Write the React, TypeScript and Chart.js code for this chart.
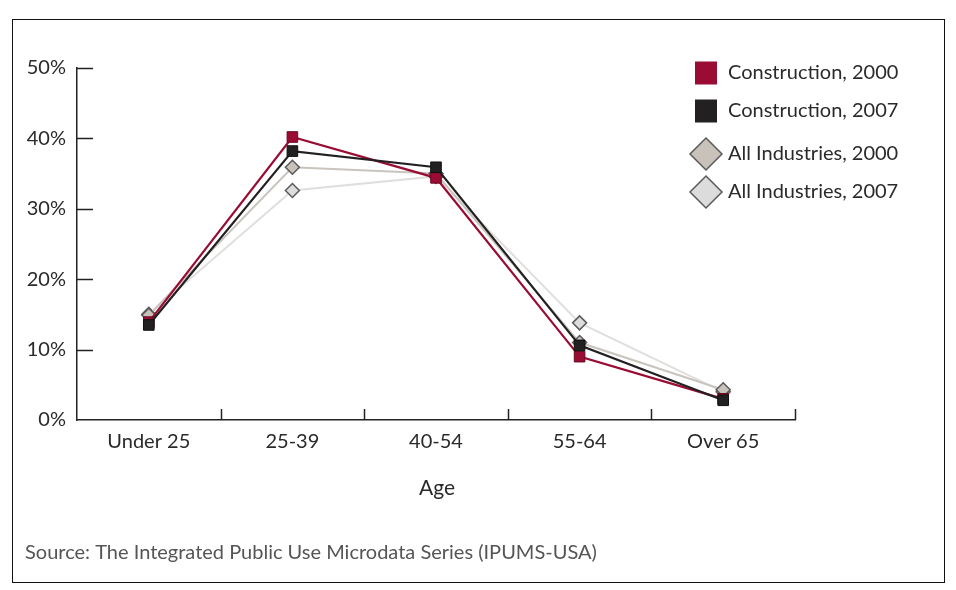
import React, { useEffect, useRef } from "react";
import { Chart, registerables } from "chart.js";

Chart.register(...registerables);

const categories = ["Under 25", "25-39", "40-54", "55-64", "Over 65"];
const construction2000 = [13.9, 40.2, 34.4, 9.0, 3.0];
const construction2007 = [13.5, 38.2, 35.9, 10.6, 2.8];
const allIndustries2000 = [14.9, 35.9, 35.0, 11.0, 4.3];
const allIndustries2007 = [15.0, 32.6, 34.6, 13.8, 4.0];
const yTicks = [0, 10, 20, 30, 40, 50];
const seriesLabels = [
  "Construction, 2000",
  "Construction, 2007",
  "All Industries, 2000",
  "All Industries, 2007",
];
const xAxisTitle = "Age";
const sourceNote = "Source: The Integrated Public Use Microdata Series (IPUMS-USA)";

const FONT = "Lato, 'Open Sans', sans-serif";

export default function App() {
  const ref = useRef<HTMLCanvasElement | null>(null);

  useEffect(() => {
    const canvas = ref.current;
    if (!canvas) return;

    const extras = {
      id: "extras",
      afterDraw(chart: any) {
        const ctx = chart.ctx;
        const xs = chart.scales.x;
        const ys = chart.scales.y;
        const area = chart.chartArea;
        ctx.save();
        ctx.strokeStyle = "#222";
        ctx.lineWidth = 1.5;
        // inward y ticks
        yTicks.forEach((v) => {
          if (v === 0) return;
          const y = Math.round(ys.getPixelForValue(v)) + 0.5;
          ctx.beginPath();
          ctx.moveTo(area.left, y);
          ctx.lineTo(area.left + 16, y);
          ctx.stroke();
        });
        // upward x ticks at category boundaries
        for (let i = 1; i <= categories.length; i++) {
          const x = Math.round(xs.getPixelForValue(i - 0.5)) + 0.5;
          ctx.beginPath();
          ctx.moveTo(x, area.bottom);
          ctx.lineTo(x, area.bottom - 11);
          ctx.stroke();
        }
        // axis title
        ctx.font = `21px ${FONT}`;
        ctx.fillStyle = "#2a2a2a";
        ctx.textAlign = "center";
        ctx.textBaseline = "middle";
        ctx.fillText(xAxisTitle, (area.left + area.right) / 2 + 1, 488);
        // legend
        const ds = chart.data.datasets;
        const rowY = [73, 111, 154, 192];
        ctx.font = `20px ${FONT}`;
        ctx.textBaseline = "middle";
        ctx.textAlign = "left";
        ds.forEach((d: any, i: number) => {
          const cy = rowY[i];
          const cx = 706;
          ctx.fillStyle = d.pointBackgroundColor;
          ctx.strokeStyle = d.pointBorderColor;
          ctx.lineWidth = 1.5;
          if (d.pointStyle === "rect") {
            ctx.fillRect(cx - 11, cy - 11.5, 22, 23);
          } else {
            ctx.beginPath();
            ctx.moveTo(cx, cy - 16);
            ctx.lineTo(cx + 16, cy);
            ctx.lineTo(cx, cy + 16);
            ctx.lineTo(cx - 16, cy);
            ctx.closePath();
            ctx.fill();
            ctx.stroke();
          }
          ctx.fillStyle = "#2a2a2a";
          ctx.fillText(d.label, 728, cy);
        });
        // source
        ctx.font = `20px ${FONT}`;
        ctx.fillStyle = "#555";
        ctx.fillText(sourceNote, 25, 553);
        ctx.restore();
      },
    };

    const chart = new Chart(canvas, {
      type: "line",
      data: {
        labels: categories,
        datasets: [
          {
            label: seriesLabels[0],
            data: construction2000,
            borderColor: "#9a0c34",
            backgroundColor: "#9a0c34",
            pointBackgroundColor: "#9a0c34",
            pointBorderColor: "#6a0822",
            pointStyle: "rect",
            pointRadius: 7.5,
            pointBorderWidth: 1,
            borderWidth: 2.2,
            tension: 0,
            order: 2,
          },
          {
            label: seriesLabels[1],
            data: construction2007,
            borderColor: "#232021",
            backgroundColor: "#232021",
            pointBackgroundColor: "#232021",
            pointBorderColor: "#111",
            pointStyle: "rect",
            pointRadius: 7.5,
            pointBorderWidth: 1,
            borderWidth: 2.2,
            tension: 0,
            order: 1,
          },
          {
            label: seriesLabels[2],
            data: allIndustries2000,
            borderColor: "#c9c4be",
            backgroundColor: "#c9c2ba",
            pointBackgroundColor: "#c9c2ba",
            pointBorderColor: "#5a5a5a",
            pointStyle: "rectRot",
            pointRadius: 7,
            pointBorderWidth: 1.5,
            borderWidth: 2,
            tension: 0,
            order: 3,
          },
          {
            label: seriesLabels[3],
            data: allIndustries2007,
            borderColor: "#e0dfdd",
            backgroundColor: "#dcdcdc",
            pointBackgroundColor: "#dcdcdc",
            pointBorderColor: "#5a5a5a",
            pointStyle: "rectRot",
            pointRadius: 7,
            pointBorderWidth: 1.5,
            borderWidth: 2,
            tension: 0,
            order: 4,
          },
        ],
      },
      options: {
        responsive: false,
        animation: false,
        layout: { padding: { left: 0, right: 161, top: 68, bottom: 0 } },
        plugins: {
          legend: { display: false },
          tooltip: { enabled: false },
        },
        scales: {
          x: {
            type: "category",
            offset: true,
            grid: { display: true, drawOnChartArea: false, drawTicks: false },
            border: { display: true, color: "#222", width: 1.5 },
            ticks: {
              color: "#2a2a2a",
              font: { family: FONT, size: 20 },
              padding: 10,
              maxRotation: 0,
            },
            afterFit(scale: any) {
              scale.height = 170;
            },
          },
          y: {
            min: 0,
            max: 50,
            grid: { display: true, drawOnChartArea: false, drawTicks: false },
            border: { display: true, color: "#222", width: 1.5 },
            ticks: {
              stepSize: 10,
              color: "#2a2a2a",
              font: { family: FONT, size: 20 },
              padding: 11,
              callback: (v: any) => `${v}%`,
            },
            afterFit(scale: any) {
              scale.width = 77;
            },
          },
        },
      },
      plugins: [extras],
    });

    return () => chart.destroy();
  }, []);

  return (
    <div
      style={{
        position: "fixed",
        left: 0,
        top: 0,
        width: 956,
        height: 590,
        background: "#fff",
      }}
    >
      <canvas ref={ref} width={956} height={590} style={{ position: "absolute", left: 0, top: 0 }} />
      <div
        style={{
          position: "absolute",
          left: 12,
          top: 19,
          width: 931,
          height: 562,
          border: "1.5px solid #111",
          pointerEvents: "none",
        }}
      />
    </div>
  );
}
